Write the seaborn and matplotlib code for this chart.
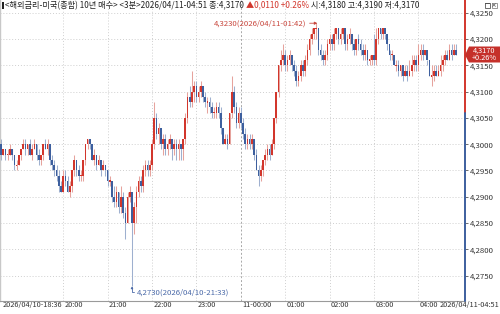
import numpy as np
import pandas as pd
import matplotlib
matplotlib.use("Agg")
import matplotlib.pyplot as plt
import matplotlib.transforms as mtransforms
import seaborn as sns
from matplotlib.patches import Polygon, Rectangle

# ---- data (prices in thousandths above 4.000, 3-minute bars from 2026/04/10 18:36) ----
opens = [300,298,299,298,298,299,298,296,296,298,299,300,299,300,298,299,300,298,297,298,
         300,299,300,297,296,295,294,292,291,294,293,291,292,295,297,295,294,294,297,300,
         301,300,297,298,296,297,295,296,295,293,293,290,289,291,288,290,287,285,290,291,
         285,288,291,293,292,295,296,295,296,300,305,302,303,300,301,299,300,301,299,300,
         299,300,299,301,305,309,308,310,311,309,310,311,309,308,308,307,306,306,307,306,
         303,300,301,300,306,310,307,304,306,304,302,300,301,300,301,298,295,294,295,297,
         298,299,298,300,305,310,315,316,317,315,316,317,315,314,312,313,315,314,316,318,
         320,321,322,322,318,317,316,317,319,320,319,321,322,320,321,322,319,320,321,319,
         318,320,319,318,317,318,316,316,317,316,320,322,321,322,321,319,317,317,315,315,
         314,315,313,314,313,314,315,316,315,317,318,317,318,316,313,313,314,313,314,315,
         316,317,316,318,317,318]
highs = [301,299,299,299,300,299,298,297,298,299,301,301,300,301,300,301,300,299,298,300,
         301,301,300,298,297,296,295,293,295,295,294,293,295,298,297,296,295,297,300,301,
         301,300,299,298,298,297,297,296,295,294,293,292,292,291,292,291,288,291,292,291,
         289,292,294,294,296,297,297,297,301,308,306,304,303,302,302,301,302,301,301,301,
         301,300,301,306,310,311,314,312,312,311,312,311,310,309,309,308,307,308,308,307,
         303,302,302,306,313,311,308,307,307,305,303,302,302,302,301,299,296,296,297,299,
         300,300,301,305,310,315,318,319,318,317,318,317,316,315,314,316,316,317,319,321,
         322,322,323,322,319,318,318,320,321,321,322,322,322,322,322,322,321,322,321,320,
         320,321,320,319,319,318,317,317,321,322,322,322,322,321,320,318,318,316,316,316,
         315,315,315,315,316,317,317,317,319,319,319,318,316,314,315,315,315,315,317,317,
         318,318,319,319,319,319]
lows = [297,298,297,297,298,297,295,295,296,297,299,298,298,298,297,299,297,296,296,297,
        299,298,296,295,294,293,291,291,291,292,291,290,291,294,294,293,293,293,296,299,
        299,297,296,295,296,294,295,294,292,292,289,288,288,287,287,286,282,285,289,273,
        283,285,290,291,291,294,294,294,295,299,301,300,299,298,298,298,299,297,298,297,
        297,297,297,300,304,307,307,308,308,308,309,308,307,306,306,305,305,305,305,302,
        300,300,299,300,305,306,303,303,303,301,299,299,299,299,297,295,292,293,294,296,
        297,297,298,299,304,309,314,315,314,314,315,314,313,311,311,312,313,313,315,317,
        319,320,320,317,316,315,315,316,318,318,318,320,319,319,320,318,318,319,318,317,
        317,318,317,316,316,315,315,315,315,315,319,320,320,320,318,316,316,315,314,313,
        313,312,313,312,313,313,314,314,314,316,316,317,315,313,311,312,313,313,313,314,
        315,316,316,316,317,317]
closes = [298,299,298,298,299,298,296,296,298,299,300,299,300,298,299,300,298,297,298,300,
          299,300,297,296,295,294,292,291,294,293,291,292,295,297,295,294,294,297,300,301,
          300,297,298,296,297,295,296,295,293,293,290,289,291,288,290,287,285,290,291,285,
          288,291,293,292,295,296,295,296,300,305,302,303,300,301,299,300,301,299,300,299,
          300,299,301,305,309,308,310,311,309,310,311,309,308,308,307,306,306,307,306,303,
          300,301,300,306,310,307,304,306,304,302,300,301,300,301,298,295,294,295,297,298,
          299,298,300,305,310,315,316,317,315,316,317,315,314,312,313,315,314,316,318,320,
          321,322,322,318,317,316,317,319,320,319,321,322,320,321,322,319,320,321,319,318,
          320,319,318,317,318,316,316,317,316,320,322,321,322,321,319,317,317,315,315,314,
          315,313,314,313,314,315,316,315,317,318,317,318,316,313,313,314,313,314,315,316,
          317,316,318,317,318,317]

x_tick_bars = [28, 48, 68, 88, 108, 128, 148, 168, 188]
x_tick_labels = ["20:00", "21:00", "22:00", "23:00", "11-00:00", "01:00", "02:00", "03:00", "04:00"]
start_label = "2026/04/10-18:36"
end_label = "2026/04/11-04:51"
y_ticks = [4.275, 4.280, 4.285, 4.290, 4.295, 4.300, 4.305, 4.310, 4.315, 4.320, 4.325]
prev_close = 4.306
last_price = "4,3170"
change_pct = "+0.26%"
header_a = "<해외금리-미국(종합) 10년 매수> <3분>2026/04/11-04:51 종:4,3170 "
header_b = "▲0,0110 +0.26%"
header_c = " 시:4,3180 고:4,3190 저:4,3170"

n = len(closes)
df = pd.DataFrame({
    "bar": np.arange(n),
    "open": 4 + np.array(opens[:n]) / 1000.0,
    "high": 4 + np.array(highs[:n]) / 1000.0,
    "low": 4 + np.array(lows[:n]) / 1000.0,
    "close": 4 + np.array(closes) / 1000.0,
})
df["time"] = pd.date_range("2026-04-10 18:36", periods=n, freq="3min")

RED = "#d2362c"
BLUE = "#3d5f9e"
RED_W = "#e6a39d"
BLUE_W = "#9eb0cf"

sns.set_theme(style="white")
NARROW = ["Liberation Sans Narrow", "Noto Sans CJK KR", "DejaVu Sans"]
plt.rcParams["font.family"] = NARROW

fig = plt.figure(figsize=(5.0, 3.14), dpi=100)
W, H = 500, 314
ax = fig.add_axes([0, (H - 301) / H, 465 / W, 301 / H])

# colours: up red, down blue, flat by previous close
prev = df["close"].shift(1).fillna(df["open"])
is_up = (df["close"] > df["open"]) | ((df["close"] == df["open"]) & (df["close"] >= prev))
body_col = np.where(is_up, RED, BLUE)
wick_col = np.where(is_up, RED_W, BLUE_W)

ax.vlines(df["bar"], df["low"], df["high"], colors=wick_col, lw=0.75, zorder=2)
bh = (df["close"] - df["open"]).abs()
flat = bh < 1e-9
bottoms = np.minimum(df["open"], df["close"]) - np.where(flat, 0.00013, 0)
heights = np.where(flat, 0.00026, bh)
ax.bar(df["bar"], heights, bottom=bottoms, width=0.72, color=body_col, linewidth=0, zorder=3)

ax.set_xlim(-0.45, 209.0)
ax.set_ylim(4.270190, 4.327414)

# grid
for yv in y_ticks:
    ax.axhline(yv, color="#cfcfcf", lw=0.7, ls=(0, (1, 2)), zorder=0)
for b in x_tick_bars:
    if b == 108:
        ax.axvline(b, color="#a8a8a8", lw=0.7, ls=(0, (2, 2)), zorder=0)
    else:
        ax.axvline(b, color="#cfcfcf", lw=0.7, ls=(0, (1, 2)), zorder=0)

# spines
for s in ["top", "right"]:
    ax.spines[s].set_visible(False)
ax.spines["left"].set_color("#c8c8c8")
ax.spines["left"].set_linewidth(1.0)
ax.spines["bottom"].set_color("#9a9a9a")
ax.spines["bottom"].set_linewidth(0.8)

# right axis line split at previous close
ytf = ax.get_yaxis_transform()
ax.plot([1, 1], [prev_close, 4.327414], transform=ytf, color=RED, lw=1.4, clip_on=False, zorder=5)
ax.plot([1, 1], [4.270190, prev_close], transform=ytf, color=BLUE, lw=1.4, clip_on=False, zorder=5)

# y ticks right
ax.yaxis.tick_right()
ax.set_yticks(y_ticks)
ax.set_yticklabels([f"{v:.4f}".replace(".", ",") for v in y_ticks])
ax.tick_params(axis="y", direction="out", length=2.5, width=0.6, color="#555555",
               pad=1, labelsize=5.6, labelcolor="#333333")

# x ticks: labels sit to the right of the tick mark
ax.set_xticks([0] + x_tick_bars)
ax.set_xticklabels([start_label] + x_tick_labels)
ax.tick_params(axis="x", direction="out", length=5, width=0.6, color="#777777",
               pad=-5.2, labelsize=5.3, labelcolor="#333333")
shift = mtransforms.ScaledTranslation(1.5 / 100, 0, fig.dpi_scale_trans)
for lab in ax.get_xticklabels():
    lab.set_horizontalalignment("left")
    lab.set_transform(lab.get_transform() + shift)

# annotations of max and min
i_max = int(np.argmax(df["high"].values))
i_min = int(np.argmin(df["low"].values))
hmax = df["high"].iloc[i_max]
lmin = df["low"].iloc[i_min]
tmax = df["time"].iloc[i_max].strftime("%Y/%m/%d-%H:%M")
tmin = df["time"].iloc[i_min].strftime("%Y/%m/%d-%H:%M")
ax.annotate(f"{hmax:.4f}".replace(".", ",") + f"({tmax})", xy=(i_max + 0.5, hmax),
            xytext=(-11, 0), textcoords="offset pixels", ha="right", va="center",
            fontsize=5.6, color="#c8463c",
            arrowprops=dict(arrowstyle="-|>", color="#c8463c", lw=0.6, mutation_scale=4,
                            shrinkA=0, shrinkB=0), zorder=6)
ax.annotate(f"{lmin:.4f}".replace(".", ",") + f"({tmin})", xy=(i_min, lmin),
            xytext=(5, -6), textcoords="offset pixels", ha="left", va="center",
            fontsize=5.6, color="#4a69a8",
            arrowprops=dict(arrowstyle="-|>", color="#4a69a8", lw=0.6, mutation_scale=3,
                            shrinkA=0, shrinkB=0,
                            connectionstyle="angle,angleA=0,angleB=90,rad=0"), zorder=6)

# overlay in pixel coordinates
ov = fig.add_axes([0, 0, 1, 1], zorder=10)
ov.set_xlim(0, W)
ov.set_ylim(H, 0)
ov.axis("off")
ov.patch.set_alpha(0)

# price box
ov.add_patch(Polygon([(465, 55), (469, 46.5), (500, 46.5), (500, 62.5), (469, 62.5)],
                     closed=True, color="#c5302a", lw=0))
ov.text(484.5, 50.6, last_price, color="white", fontsize=5.3, ha="center", va="center")
ov.text(484.5, 58.4, change_pct, color="white", fontsize=5.3, ha="center", va="center")

# header
fs_h = 5.9
ov.add_patch(Rectangle((1.5, 1.5), 2, 7, color="#222222", lw=0))
t1 = ov.text(5, 5.2, header_a, fontsize=fs_h, color="#222222", ha="left", va="center")
fig.canvas.draw()
r = fig.canvas.get_renderer()
bb = t1.get_window_extent(r)
x2 = bb.x1 * W / fig.bbox.width
t2 = ov.text(x2, 5.2, header_b, fontsize=fs_h, color="#d2362c", ha="left", va="center")
fig.canvas.draw()
bb2 = t2.get_window_extent(r)
x3 = bb2.x1 * W / fig.bbox.width
ov.text(x3, 5.2, header_c, fontsize=fs_h, color="#222222", ha="left", va="center")

# small window icons
ov.add_patch(Rectangle((484.5, 2.5), 5, 5, fill=False, ec="#555555", lw=0.6))
ov.add_patch(Rectangle((484.5, 2.5), 5, 1.5, color="#555555", lw=0))
ov.add_patch(Rectangle((491.5, 2.5), 5, 5, fill=False, ec="#888888", lw=0.6))
ov.plot([492.5, 495.5], [3.5, 6.5], color="#666666", lw=0.5)
ov.plot([492.5, 495.5], [6.5, 3.5], color="#666666", lw=0.5)

# end time label
ov.text(499, 305.5, end_label, fontsize=5.3, color="#333333", ha="right", va="center")

fig.savefig("out.png", dpi=100)
